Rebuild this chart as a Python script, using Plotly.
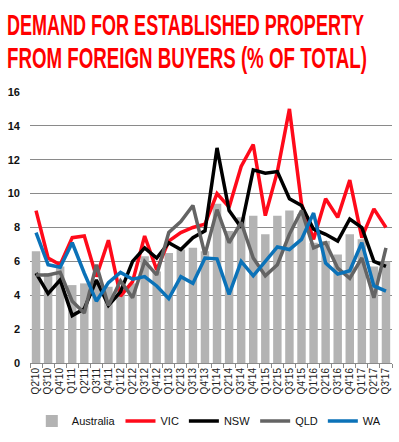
import plotly.graph_objects as go

quarters = ["Q2'10", "Q3'10", "Q4'10", "Q1'11", "Q2'11", "Q3'11", "Q4'11", "Q1'12",
            "Q2'12", "Q3'12", "Q4'12", "Q1'13", "Q2'13", "Q3'13", "Q4'13", "Q1'14",
            "Q2'14", "Q3'14", "Q4'14", "Q1'15", "Q2'15", "Q3'15", "Q4'15", "Q1'16",
            "Q2'16", "Q3'16", "Q4'16", "Q1'17", "Q2'17", "Q3'17"]

australia = [6.6, 5.3, 5.7, 4.6, 4.7, 4.8, 4.5, 4.4, 4.7, 6.3, 5.4, 6.5, 6.7, 6.8, 6.6,
             9.4, 7.8, 8.6, 8.7, 7.6, 8.7, 9.0, 8.8, 7.1, 7.2, 6.4, 7.6, 7.3, 5.7, 6.0]
vic = [9.0, 6.2, 5.8, 7.4, 7.5, 5.1, 7.25, 3.95, 4.8, 7.5, 5.5, 7.2, 7.7, 8.0, 8.2,
       10.0, 9.2, 11.6, 12.9, 8.7, 11.3, 15.0, 9.4, 7.3, 9.7, 8.6, 10.8, 7.4, 9.1, 8.0]
nsw = [5.3, 4.1, 4.9, 2.8, 3.2, 4.9, 3.4, 4.2, 6.0, 6.8, 6.2, 7.1, 6.7, 7.4, 7.8,
       12.7, 9.0, 8.0, 11.4, 11.2, 11.3, 9.7, 9.3, 7.9, 7.6, 7.2, 8.5, 8.0, 6.0, 5.7]
qld = [5.2, 5.2, 5.35, 3.65, 2.95, 5.8, 3.4, 4.85, 3.85, 6.0, 5.2, 7.7, 8.35, 9.3, 6.4,
       9.05, 7.1, 8.3, 6.2, 5.15, 5.8, 7.6, 9.0, 6.8, 7.1, 5.6, 5.0, 6.2, 3.85, 6.8]
wa = [7.7, 5.8, 5.65, 7.1, 5.3, 3.65, 4.75, 5.35, 4.95, 5.1, 4.55, 3.8, 5.1, 4.7, 6.2,
      6.15, 4.05, 6.0, 5.15, 6.0, 6.85, 6.7, 7.3, 8.85, 5.9, 5.25, 5.45, 7.1, 4.55, 4.25]

y_ticks = [0, 2, 4, 6, 8, 10, 12, 14, 16]
title_lines = ["DEMAND FOR ESTABLISHED PROPERTY", "FROM FOREIGN BUYERS (% OF TOTAL)"]
title_widths = [357, 360]  # rendered width of each title line (condensed display face)

fig = go.Figure()
fig.add_trace(go.Bar(x=quarters, y=australia, name="Australia",
                     marker=dict(color="#b3b3b3", line=dict(width=0))))
for name, vals, col in [("VIC", vic, "#ff0a1a"), ("NSW", nsw, "#000000"),
                        ("QLD", qld, "#646464"), ("WA", wa, "#0b72b8")]:
    fig.add_trace(go.Scatter(x=quarters, y=vals, name=name, mode="lines",
                             line=dict(color=col, width=3.5)))

fig.update_layout(
    width=399, height=442, autosize=False,
    margin=dict(l=30, r=7, t=92, b=78, pad=0),
    paper_bgcolor="white", plot_bgcolor="white",
    bargap=0.3,
    showlegend=True,
    legend=dict(orientation="h", x=0.005, xanchor="left", y=-0.21, yanchor="middle",
                font=dict(family="Liberation Sans", size=11, color="#111"),
                itemwidth=30, traceorder="normal", bgcolor="rgba(0,0,0,0)"),
    font=dict(family="Liberation Sans", color="#111"),
)
fig.update_yaxes(range=[0, 16], tickvals=y_ticks, showgrid=True, gridcolor="#8a8a8a",
                 gridwidth=1, zeroline=False, showline=False, ticks="",
                 tickfont=dict(family="Liberation Sans", size=11, color="#111", weight="bold"),
                 ticklabelstandoff=9)
fig.update_xaxes(type="category", tickangle=-90, showline=True, linecolor="#8a8a8a",
                 linewidth=1, ticks="outside", tickson="boundaries", ticklen=4,
                 tickcolor="#8a8a8a", showgrid=False,
                 tickfont=dict(family="Liberation Sans", size=10, color="#222"))

for i, line in enumerate(title_lines):
    fig.add_annotation(text="<b>" + line + "</b>", xref="paper", yref="paper",
                       x=-25 / 362, xanchor="left", y=1 + (68 - 33 * i) / 272,
                       yanchor="middle", showarrow=False, name="title%d" % i,
                       font=dict(family="Liberation Sans", size=30, color="#ff0000"))

post = """
var widths = %s;
var texts = document.querySelectorAll('g.annotation text.annotation-text');
texts.forEach(function(el, i){
  if (i >= widths.length) return;
  var bb = el.getBBox();
  var s = widths[i] / bb.width;
  var x0 = bb.x;
  var t = el.getAttribute('transform') || '';
  el.setAttribute('transform', t + ' translate(' + x0 + ',0) scale(' + s + ',1) translate(' + (-x0) + ',0)');
});
document.body.style.margin = '0';
""" % str(title_widths)

fig.write_html("out.html", include_plotlyjs=True, full_html=True,
               config={"displayModeBar": False}, post_script=post)
